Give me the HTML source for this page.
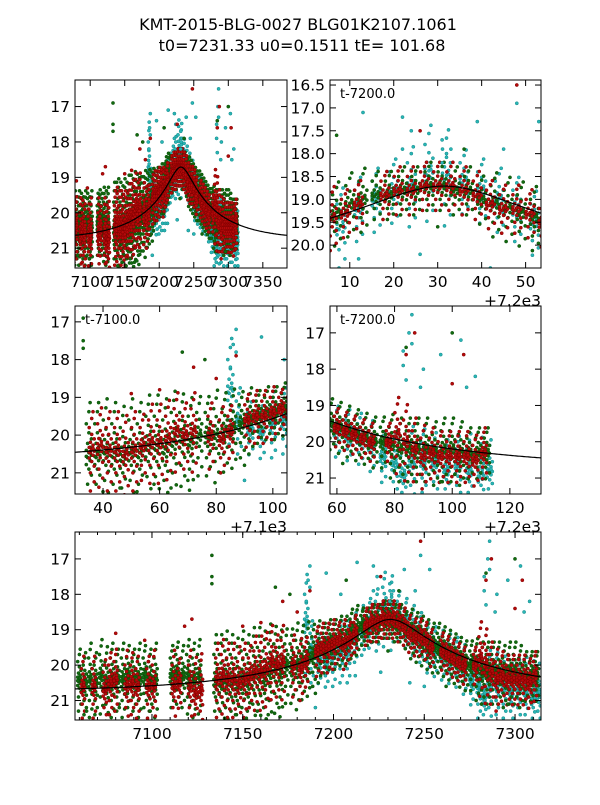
<!DOCTYPE html>
<html><head><meta charset="utf-8"><style>
body{margin:0;background:#fff}
svg text{font-family:"DejaVu Sans","Liberation Sans",sans-serif;fill:#000}
</style></head><body>
<svg id="fig" width="600" height="800" viewBox="0 0 600 800" xmlns="http://www.w3.org/2000/svg">
<rect width="600" height="800" fill="#fff"/>
<text x="298" y="30" font-size="16" text-anchor="middle">KMT-2015-BLG-0027 BLG01K2107.1061</text>
<text x="302" y="51" font-size="16" text-anchor="middle">t0=7231.33 u0=0.1511 tE= 101.68</text>
</svg>
<script>
// model parameters
const modelT0 = 7231.33, modelU0 = 0.1511, modelTE = 101.68, modelBase = 20.77;
// green series nights: time, centre mag, half-spread
const greenT = [7060,7063,7066,7069,7072,7075,7078,7081,7084,7087,7090,7093,7096,7099,7102,7111,7114,7117,7120,7123,7126,7135,7138,7141,7144,7147,7150,7153,7156,7159,7162,7165,7168,7171,7174,7177,7180,7183,7186,7189,7192,7195,7198,7201,7204,7207,7210,7213,7216,7219,7222,7225,7228,7231,7234,7237,7240,7243,7246,7249,7252,7255,7258,7261,7264,7267,7270,7273,7276,7279,7282,7285,7288,7291,7294,7297,7300,7303,7306,7309,7312];
const greenM = [20.4,20.5,20.4,20.5,20.3,20.5,20.4,20.4,20.4,20.3,20.4,20.4,20.3,20.4,20.4,20.3,20.2,20.3,20.3,20.4,20.3,20.5,20.5,20.4,20.5,20.6,20.4,20.5,20.3,20.3,20.4,20.2,20.1,20.2,20.0,20.0,20.0,19.9,19.8,19.7,19.6,19.5,19.4,19.4,19.3,19.3,19.1,19.0,18.9,18.9,18.8,18.8,18.7,18.7,18.8,18.8,19.0,19.1,19.2,19.3,19.4,19.5,19.5,19.6,19.7,19.8,19.9,20.0,20.0,20.1,20.2,20.2,20.2,20.2,20.3,20.2,20.2,20.3,20.3,20.3,20.3];
const greenS = [.5,.5,.6,.5,.6,.6,.6,.5,.6,.5,.5,.6,.5,.5,.6,.5,.5,.5,.6,.6,.6,.8,.8,.8,.8,.8,.8,.8,.8,.8,.8,.8,.7,.7,.6,.6,.7,.6,.6,.5,.5,.4,.4,.4,.4,.4,.4,.4,.3,.3,.3,.3,.3,.3,.3,.3,.3,.4,.4,.4,.4,.4,.4,.4,.4,.4,.4,.4,.4,.5,.5,.5,.5,.5,.5,.5,.5,.5,.4,.4,.4];
// red series
const redT = [7062,7068,7074,7077,7080,7086,7089,7092,7098,7101,7112,7115,7121,7124,7127,7136,7139,7142,7145,7148,7151,7154,7157,7160,7163,7166,7169,7172,7178,7182,7185,7191,7194,7197,7200,7203,7206,7209,7212,7218,7221,7224,7227,7230,7233,7236,7239,7242,7245,7248,7251,7254,7260,7263,7266,7269,7272,7278,7281,7284,7287,7290,7293,7296,7299,7302,7305,7308,7311];
const redM = [20.6,20.6,20.7,20.5,20.4,20.6,20.5,20.6,20.6,20.6,20.6,20.5,20.6,20.8,20.7,20.4,20.3,20.4,20.4,20.5,20.4,20.3,20.2,20.2,20.1,19.9,20.0,19.9,20.0,20.1,19.9,19.6,19.5,19.5,19.4,19.3,19.4,19.3,19.1,18.9,18.8,18.8,18.7,18.7,18.7,18.8,18.9,19.1,19.2,19.2,19.3,19.5,19.6,19.7,19.8,19.9,20.0,20.0,19.8,20.0,20.2,20.4,20.3,20.4,20.4,20.4,20.4,20.5,20.3];
const redS = [.5,.5,.5,.5,.5,.6,.5,.5,.5,.6,.6,.4,.6,.6,.6,.6,.6,.6,.6,.6,.6,.5,.6,.6,.6,.6,.5,.6,.5,.5,.4,.4,.4,.4,.4,.3,.4,.3,.3,.3,.3,.3,.3,.3,.3,.3,.3,.3,.3,.3,.3,.3,.3,.3,.3,.3,.3,.3,.6,.6,.5,.5,.4,.4,.4,.4,.4,.4,.4];
// cyan series
const cyanT = [7185,7188,7192,7196,7200,7204,7208,7212,7216,7220,7224,7228,7232,7236,7240,7244,7248,7252,7256,7260,7264,7268,7272,7276,7280,7283,7286,7290,7294,7298,7302,7306,7310,7313];
const cyanM = [18.8,19.6,19.8,19.9,19.7,19.6,19.6,19.2,19.0,18.8,18.7,18.4,18.5,18.6,18.8,19.0,19.2,19.5,19.6,19.7,19.8,19.9,20.1,20.4,20.6,20.9,20.6,20.5,20.6,20.8,20.7,20.8,20.9,20.8];
const cyanS = [.8,.5,.4,.4,.5,.5,.5,.4,.4,.4,.5,.6,.6,.4,.4,.4,.4,.4,.4,.4,.4,.4,.4,.4,.5,.5,.6,.5,.5,.5,.5,.6,.6,.5];
// isolated outliers
const cyanOutT = [7186,7187,7196,7204,7213,7222,7224,7231,7233,7239,7245,7248,7253,7283,7285,7286,7290,7303,7308,7185,7187,7222,7231,7232,7283,7284,7286,7289,7296,7305,7190,7212,7226,7242,7250];
const cyanOutM = [17.6,17.2,17.4,18.0,17.1,17.2,17.5,17.7,17.9,17.3,17.9,16.9,17.3,17.5,17.0,16.5,18.0,17.2,18.2,18.2,17.8,17.9,18.2,18.0,17.9,18.3,17.3,18.5,17.6,18.5,21.2,20.3,20.2,20.5,20.6];
const greenOutT = [7133,7133,7133,7168,7176,7207,7236,7284,7300,7064,7082,7099,7140,7146,7152,7158,7164,7170,7190,7230,7262,7296];
const greenOutM = [16.9,17.5,17.7,17.8,18.0,17.6,17.9,17.4,17.0,21.3,21.2,21.3,21.5,21.4,21.5,21.3,21.4,21.2,20.8,19.6,20.6,21.1];
const redOutT = [7122,7172,7187,7226,7248,7284,7287,7304,7080,7096,7118,7150,7160,7180,7300];
const redOutM = [18.7,18.2,17.9,17.5,16.5,17.6,17.0,17.6,19.1,19.3,18.9,18.9,18.8,18.5,18.4];

const panels = [
 {id:'panel-full-top',x:75,y:80,w:212,h:188,t0:7078,t1:7385,m0:16.25,m1:21.56,off:0,xt:[7100,7150,7200,7250,7300,7350],yt:[17,18,19,20,21],dec:0,lab:null,offTxt:null},
 {id:'panel-peak',x:330,y:80,w:211,h:188,t0:7205.5,t1:7253.5,m0:16.39,m1:20.5,off:7200,xt:[10,20,30,40,50],yt:[16.5,17,17.5,18,18.5,19,19.5,20],dec:1,lab:'t-7200.0',offTxt:'+7.2e3'},
 {id:'panel-rise',x:75,y:306,w:212,h:188,t0:7130.1,t1:7205,m0:16.58,m1:21.56,off:7100,xt:[40,60,80,100],yt:[17,18,19,20,21],dec:0,lab:'t-7100.0',offTxt:'+7.1e3'},
 {id:'panel-fall',x:330,y:306,w:211,h:188,t0:7257.6,t1:7330.8,m0:16.26,m1:21.44,off:7200,xt:[60,80,100,120],yt:[17,18,19,20,21],dec:0,lab:'t-7200.0',offTxt:'+7.2e3'},
 {id:'panel-full-bottom',x:75,y:532,w:466,h:188,t0:7057.6,t1:7314.3,m0:16.24,m1:21.55,off:0,xt:[7100,7150,7200,7250,7300],yt:[17,18,19,20,21],dec:0,lab:null,offTxt:null,minor:10}
];
const NS='http://www.w3.org/2000/svg';
const svg=document.getElementById('fig');
function mk(tag,attrs,parent){const e=document.createElementNS(NS,tag);for(const k in attrs)e.setAttribute(k,attrs[k]);(parent||svg).appendChild(e);return e;}
const pattern=[-1,-.7,-.5,-.35,-.22,-.12,-.04,.04,.12,.22,.35,.5,.7,1,-.08,.08,-1.4,1.4,1.8,-1.7];
function modelMag(t){const u=Math.sqrt(modelU0*modelU0+Math.pow((t-modelT0)/modelTE,2));const A=(u*u+2)/(u*Math.sqrt(u*u+4));return modelBase-2.5*Math.log10(A);}

panels.forEach((p,pi)=>{
 const xs=t=>p.x+(t-p.t0)/(p.t1-p.t0)*p.w;
 const ys=m=>p.y+(m-p.m0)/(p.m1-p.m0)*p.h;
 const g=mk('g',{});
 
 
 const cp=mk('clipPath',{id:'cp'+pi},g);
 mk('rect',{x:p.x,y:p.y,width:p.w,height:p.h},cp);
 const data=mk('g',{'clip-path':'url(#cp'+pi+')'},g);
 
 
 function series(T,M,S,fill,stroke,name){
  const sg=mk('g',{fill:fill,stroke:stroke,'stroke-width':0.5},data);
  
  
  T.forEach((t,i)=>{pattern.forEach((f,k)=>{const dt=((k*7)%5-2)*0.45;mk('circle',{cx:xs(t+dt).toFixed(1),cy:ys(M[i]+S[i]*f).toFixed(1),r:1.6},sg);});});
 }
 function outl(T,M,fill,stroke,name){
  const sg=mk('g',{fill:fill,stroke:stroke,'stroke-width':0.5},data);
  
  
  T.forEach((t,i)=>mk('circle',{cx:xs(t).toFixed(1),cy:ys(M[i]).toFixed(1),r:1.6},sg));
 }
 series(cyanT,cyanM,cyanS,'#2ab5b5','#128a8a','series-cyan');
 series(greenT,greenM,greenS,'#11690f','#0b4f0a','series-green');
 series(redT,redM,redS,'#b30a0a','#800000','series-red');
 outl(cyanOutT,cyanOutM,'#2ab5b5','#128a8a','outliers-cyan');
 outl(greenOutT,greenOutM,'#11690f','#0b4f0a','outliers-green');
 outl(redOutT,redOutM,'#b30a0a','#800000','outliers-red');
 let d='';for(let s=0;s<=200;s++){const t=p.t0+(p.t1-p.t0)*s/200;d+=(s?'L':'M')+xs(t).toFixed(1)+' '+ys(modelMag(t)).toFixed(1);}
 const ml=mk('path',{d:d,fill:'none',stroke:'#000','stroke-width':1.2},data);
 
 
 const fr=mk('rect',{x:p.x,y:p.y,width:p.w,height:p.h,fill:'none',stroke:'#000','stroke-width':1},g);
 
 
 const tk=mk('g',{stroke:'#000','stroke-width':1},g);
 
 
 p.xt.forEach(v=>{const X=xs(v+p.off);
  mk('line',{x1:X,y1:p.y+p.h,x2:X,y2:p.y+p.h-6},tk);mk('line',{x1:X,y1:p.y,x2:X,y2:p.y+6},tk);
  const tx=mk('text',{x:X,y:p.y+p.h+19,'font-size':15.5,'text-anchor':'middle'},g);
  
  
  tx.textContent=String(v);});
 if(p.minor){for(let v=Math.ceil(p.t0/p.minor)*p.minor;v<=p.t1;v+=p.minor){const X=xs(v);mk('line',{x1:X,y1:p.y+p.h,x2:X,y2:p.y+p.h-3},tk);mk('line',{x1:X,y1:p.y,x2:X,y2:p.y+3},tk);}}
 p.yt.forEach(v=>{const Y=ys(v);
  mk('line',{x1:p.x,y1:Y,x2:p.x+6,y2:Y},tk);mk('line',{x1:p.x+p.w,y1:Y,x2:p.x+p.w-6,y2:Y},tk);
  const tx=mk('text',{x:p.x-5,y:Y+5.5,'font-size':15.5,'text-anchor':'end'},g);
  
  
  tx.textContent=v.toFixed(p.dec);});
 if(p.lab){const tx=mk('text',{x:p.x+10,y:p.y+18,'font-size':13},g);
  
  
  tx.textContent=p.lab;}
 if(p.offTxt){const tx=mk('text',{x:p.x+p.w,y:p.y+p.h+38,'font-size':15.5,'text-anchor':'end'},g);
  
  
  tx.textContent=p.offTxt;}
});
</script>
</body></html>
